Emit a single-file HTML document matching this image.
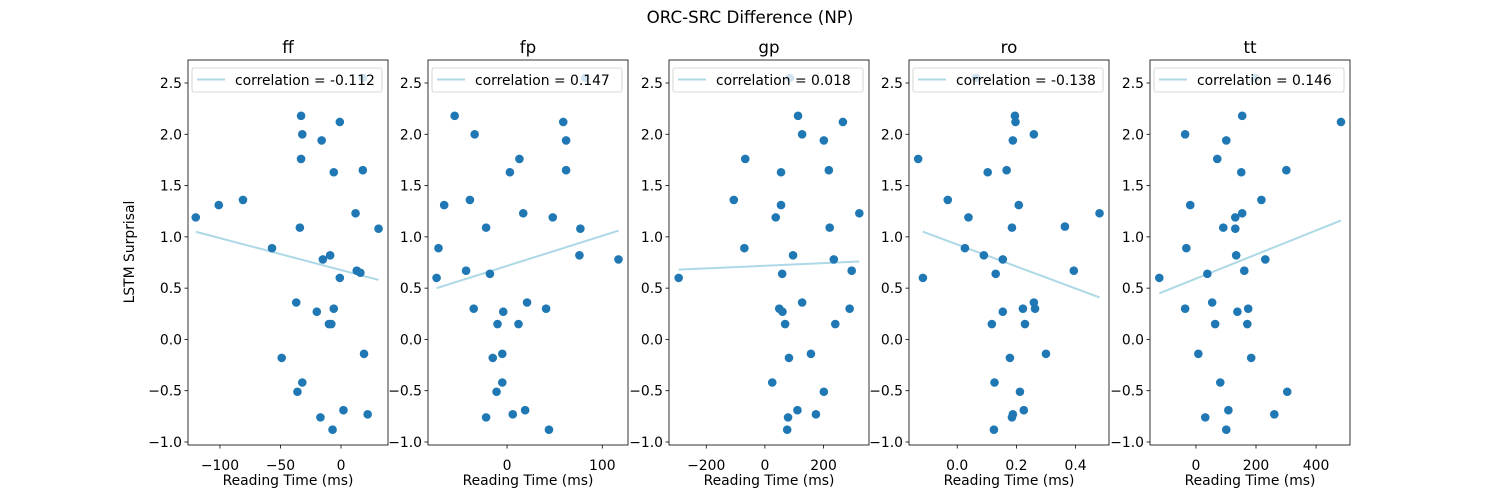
<!DOCTYPE html>
<html><head><meta charset="utf-8">
<style>
html,body{margin:0;padding:0;background:#fff;}
svg{display:block;font-family:"DejaVu Sans","Liberation Sans",sans-serif;}
</style></head>
<body>
<svg id="chart" width="1500" height="500" viewBox="0 0 1500 500" xmlns="http://www.w3.org/2000/svg">
<rect width="1500" height="500" fill="#fff"/>
<text x="750" y="23" text-anchor="middle" font-size="16.7">ORC-SRC Difference (NP)</text>
<text x="0" y="0" transform="translate(134,252) rotate(-90)" text-anchor="middle" font-size="13.9">LSTM Surprisal</text>
</svg>
<script>
const panelNames = ["ff","fp","gp","ro","tt"];
const correlations = ["-0.112","0.147","0.018","-0.138","0.146"];
const yTicks = [-1.0,-0.5,0.0,0.5,1.0,1.5,2.0,2.5];
const yTickLabels = ["−1.0","−0.5","0.0","0.5","1.0","1.5","2.0","2.5"];
const xLims = [[-126.4,38.8],[-83,127],[-327,355],[-0.163,0.513],[-153,513]];
const xTicks = [[-100,-50,0],[0,100],[-200,0,200],[0,0.2,0.4],[0,200,400]];
const xTickLabels = [["−100","−50","0"],["0","100"],["−200","0","200"],["0.0","0.2","0.4"],["0","200","400"]];
const fitLines = [[[-120,1.05],[31,0.58]],[[-74,0.50],[117,1.06]],[[-294,0.68],[322,0.76]],[[-0.116,1.05],[0.481,0.41]],[[-122,0.45],[483,1.16]]];

const ffX = [-120,-101,-81,-57,-49,-37,-36,-33,-32,-33,-34,-32,-16,-17,-20,-15,-10,-8,-9,-6,-6,-7,-1,-1,2,12,13,16,18,19,22,31,18];
const ffY = [1.19,1.31,1.36,0.89,-0.18,0.36,-0.51,2.18,2.0,1.76,1.09,-0.42,1.94,-0.76,0.27,0.78,0.15,0.15,0.82,1.63,0.30,-0.88,2.12,0.60,-0.69,1.23,0.67,0.65,1.65,-0.14,-0.73,1.08,2.55];
const fpX = [-55,-34,13,3,-66,-39,-22,-72,-74,-43,-18,-35,-4,-10,12,21,41,-15,-5,-5,-11,-22,6,19,44,59,62,62,17,48,77,76,117,82];
const fpY = [2.18,2.0,1.76,1.63,1.31,1.36,1.09,0.89,0.60,0.67,0.64,0.30,0.27,0.15,0.15,0.36,0.30,-0.18,-0.14,-0.42,-0.51,-0.76,-0.73,-0.69,-0.88,2.12,1.94,1.65,1.23,1.19,1.08,0.82,0.78,2.55];
const gpX = [85,113,266,127,201,-67,55,218,-106,55,37,322,221,-70,96,235,296,59,-294,127,49,60,289,69,240,82,157,25,201,111,79,174,76];
const gpY = [2.55,2.18,2.12,2.0,1.94,1.76,1.63,1.65,1.36,1.31,1.19,1.23,1.09,0.89,0.82,0.78,0.67,0.64,0.60,0.36,0.30,0.27,0.30,0.15,0.15,-0.18,-0.14,-0.42,-0.51,-0.69,-0.76,-0.73,-0.88];
const roX = [0.064,0.195,0.197,0.259,0.188,-0.132,0.103,0.167,-0.032,0.208,0.038,0.481,0.185,0.364,0.026,0.090,0.154,0.394,0.130,-0.116,0.259,0.222,0.263,0.154,0.117,0.229,0.178,0.300,0.126,0.212,0.225,0.188,0.185,0.124];
const roY = [2.55,2.18,2.12,2.0,1.94,1.76,1.63,1.65,1.36,1.31,1.19,1.23,1.09,1.10,0.89,0.82,0.78,0.67,0.64,0.60,0.36,0.30,0.30,0.27,0.15,0.15,-0.18,-0.14,-0.42,-0.51,-0.69,-0.73,-0.76,-0.88];
const ttX = [197,154,483,-36,101,71,151,301,218,-19,131,154,91,131,-32,134,231,161,38,-122,54,-36,138,174,64,171,8,184,81,304,108,261,31,101];
const ttY = [2.55,2.18,2.12,2.0,1.94,1.76,1.63,1.65,1.36,1.31,1.19,1.23,1.09,1.08,0.89,0.82,0.78,0.67,0.64,0.60,0.36,0.30,0.27,0.30,0.15,0.15,-0.14,-0.18,-0.42,-0.51,-0.69,-0.73,-0.76,-0.88];
const seriesX = [ffX,fpX,gpX,roX,ttX];
const seriesY = [ffY,fpY,gpY,roY,ttY];

const NS = "http://www.w3.org/2000/svg";
const svg = document.getElementById("chart");
const panelLeft = [188,428,669,909,1150];
const panelW = 200, plotTop = 60, plotBottom = 445;
function yScale(v){ return 442 - (v + 1.0) * 102.57; }
function mk(tag, attrs, parent){
  const e = document.createElementNS(NS, tag);
  for (const k in attrs) e.setAttribute(k, attrs[k]);
  (parent || svg).appendChild(e);
  return e;
}
panelNames.forEach((name, p) => {
  const L = panelLeft[p];
  const x0 = xLims[p][0], x1 = xLims[p][1];
  const xs = v => L + (v - x0) / (x1 - x0) * panelW;
  const g = mk("g", {});
  
  
  const t = mk("text", {x: L + panelW/2, y: 53, "text-anchor": "middle", "font-size": "16.7"}, g);
  t.textContent = name;
  
  
  yTicks.forEach((v, i) => {
    const y = yScale(v);
    mk("line", {x1: L - 3.5, x2: L, y1: y, y2: y, stroke: "#000", "stroke-width": 0.8}, g);
    const tl = mk("text", {x: L - 6, y: y + 5, "text-anchor": "end", "font-size": "13.9"}, g);
    tl.textContent = yTickLabels[i];
    
    
  });
  xTicks[p].forEach((v, i) => {
    const x = xs(v);
    mk("line", {x1: x, x2: x, y1: plotBottom, y2: plotBottom + 3.5, stroke: "#000", "stroke-width": 0.8}, g);
    const tl = mk("text", {x: x, y: plotBottom + 25, "text-anchor": "middle", "font-size": "13.9"}, g);
    tl.textContent = xTickLabels[p][i];
    
    
  });
  const xl = mk("text", {x: L + panelW/2, y: 485, "text-anchor": "middle", "font-size": "13.9"}, g);
  xl.textContent = "Reading Time (ms)";
  
  
  const f = fitLines[p];
  const fl = mk("line", {x1: xs(f[0][0]), y1: yScale(f[0][1]), x2: xs(f[1][0]), y2: yScale(f[1][1]), stroke: "#add8e6", "stroke-width": 2}, g);
  
  
  seriesX[p].forEach((v, i) => {
    const c = mk("circle", {cx: xs(v), cy: yScale(seriesY[p][i]), r: 4.3, fill: "#1f77b4"}, g);
    
    
  });
  mk("rect", {x: L, y: plotTop, width: panelW, height: plotBottom - plotTop, fill: "none", stroke: "#000", "stroke-width": 0.8}, g);
  const lg = mk("g", {}, g);
  
  
  mk("rect", {x: L + 4, y: 68, width: 190, height: 24, rx: 2, fill: "#fff", "fill-opacity": 0.8, stroke: "#ccc", "stroke-width": 0.8}, lg);
  mk("line", {x1: L + 9, x2: L + 37, y1: 79.5, y2: 79.5, stroke: "#add8e6", "stroke-width": 2}, lg);
  const lt = mk("text", {x: L + 47, y: 85, "font-size": "13.9"}, lg);
  lt.textContent = "correlation = " + correlations[p];
  
  
});
</script>
</body></html>
